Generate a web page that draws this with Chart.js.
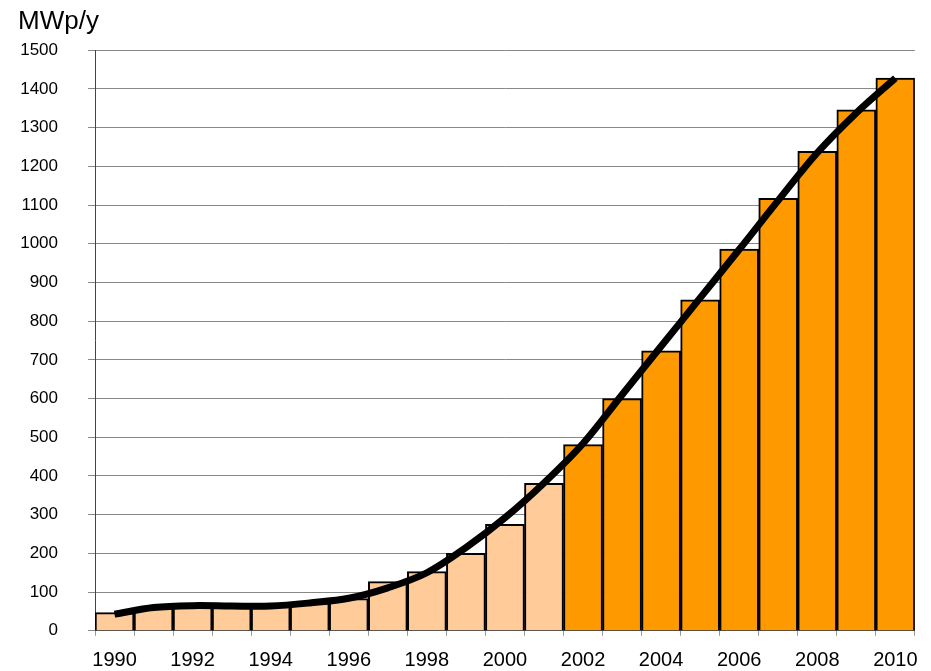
<!DOCTYPE html>
<html>
<head>
  <meta charset="UTF-8">
  <title>MWp/y</title>
  <script src="https://cdn.jsdelivr.net/npm/chart.js"></script>
  <style>
    body { margin: 0; background: #fff; }
    canvas { display: block; }
  </style>
</head>
<body>
  <canvas id="grafico" width="931" height="671"></canvas>

  <script>
    const anos = [1990, 1991, 1992, 1993, 1994, 1995, 1996, 1997, 1998, 1999, 2000,
                  2001, 2002, 2003, 2004, 2005, 2006, 2007, 2008, 2009, 2010];
    const producao = [47, 58, 64, 64, 64, 74, 83, 127, 153, 200, 275,
                      381, 481, 600, 723, 855, 986, 1117, 1239, 1346, 1428];
    const tendencia = [43, 60, 65, 64, 64, 72, 84, 111, 150, 215, 292,
                       382, 484, 610, 735, 860, 985, 1112, 1235, 1338, 1428];
    const anoDestaque = 2002;

    const fonte = "Arial, 'Liberation Sans', sans-serif";
    const cores = anos.map(a => a >= anoDestaque ? '#FF9900' : '#FFCC99');

    const ctx = document.getElementById('grafico').getContext('2d');
    const chart = new Chart(ctx, {
      data: {
        labels: anos.map(String),
        datasets: [{
          type: 'line',
          label: 'Tendência',
          data: tendencia,
          borderColor: '#000',
          borderWidth: 7,
          pointRadius: 0,
          tension: 0.35,
          fill: false,
          order: 0
        }, {
          type: 'bar',
          label: 'MWp/y',
          data: producao,
          backgroundColor: cores,
          borderColor: '#000',
          borderWidth: 2,
          categoryPercentage: 1,
          barPercentage: 1,
          order: 1
        }]
      },
      options: {
        responsive: false,
        animation: false,
        layout: { padding: { left: 18, right: 16, top: 0, bottom: 0 } },
        plugins: {
          legend: { display: false },
          tooltip: { enabled: false },
          title: {
            display: true,
            text: 'MWp/y',
            align: 'start',
            color: '#000',
            font: { family: fonte, size: 26, weight: 'normal' },
            padding: { top: 6, bottom: 13 }
          }
        },
        scales: {
          x: {
            afterFit: s => { s.height = 38; },
            grid: { drawOnChartArea: false, drawTicks: true, tickLength: 5, color: '#999' },
            border: { display: true, color: '#444', width: 1 },
            ticks: {
              autoSkip: false,
              maxRotation: 0,
              padding: 13,
              color: '#000',
              font: { family: fonte, size: 20 },
              callback: function (v, i) { return i % 2 === 0 ? this.getLabelForValue(v) : ''; }
            }
          },
          y: {
            min: 0,
            max: 1500,
            afterFit: s => { s.width = 77; },
            grid: { color: '#888', lineWidth: 1, tickLength: 7 },
            border: { display: true, color: '#444', width: 1 },
            ticks: {
              stepSize: 100,
              padding: 30,
              color: '#000',
              font: { family: fonte, size: 17 },
              callback: v => String(v)
            }
          }
        }
      }
    });
  </script>
</body>
</html>
